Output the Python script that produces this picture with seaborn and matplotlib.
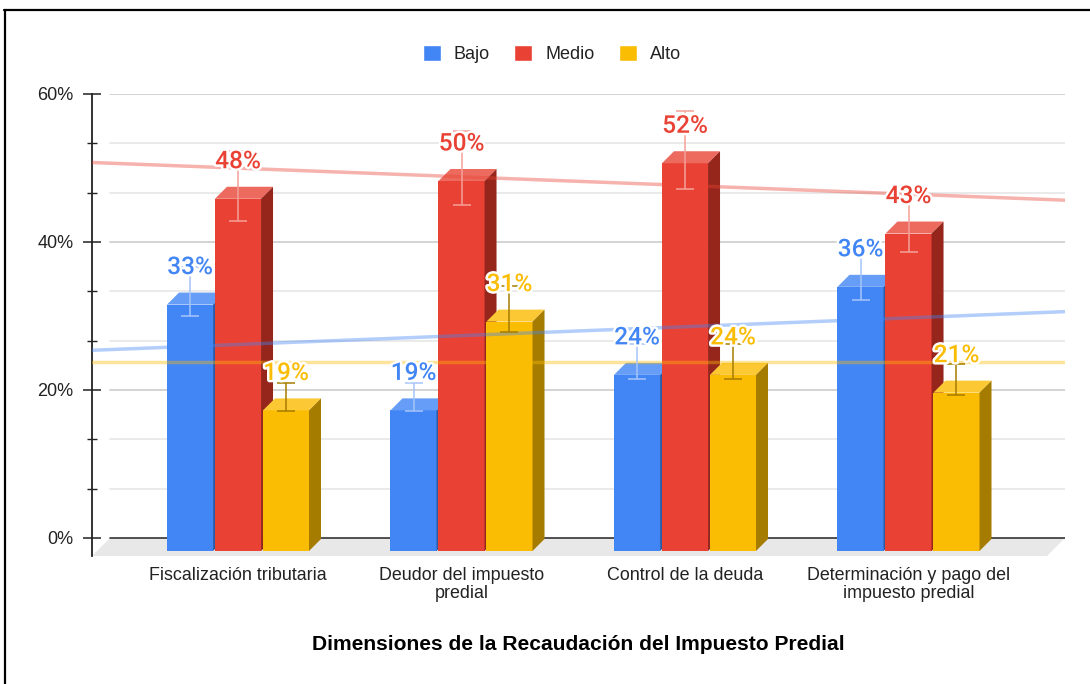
import numpy as np
import pandas as pd
import matplotlib
matplotlib.use("Agg")
import matplotlib.pyplot as plt
from matplotlib.lines import Line2D
from matplotlib.patches import Patch, Polygon
from matplotlib.ticker import MultipleLocator, PercentFormatter
import matplotlib.patheffects as pe
import seaborn as sns

categorias = ["Fiscalización tributaria", "Deudor del impuesto\npredial",
              "Control de la deuda", "Determinación y pago del\nimpuesto predial"]
niveles = ["Bajo", "Medio", "Alto"]
bajo = [33.3, 19.0, 23.8, 35.7]
medio = [47.6, 50.0, 52.4, 42.9]
alto = [19.0, 31.0, 23.8, 21.4]
serie = {"Bajo": bajo, "Medio": medio, "Alto": alto}

colores = {"Bajo": "#4285f4", "Medio": "#e94235", "Alto": "#fbbc04"}
techo = {"Bajo": "#669df6", "Medio": "#ec6a5e", "Alto": "#fcc934"}
lado = {"Bajo": "#2a5ba8", "Medio": "#96261c", "Alto": "#a67c00"}
error = {"Bajo": "#a6c5fa", "Medio": "#f4a29a", "Alto": "#a67c00"}

W, H = 1090, 684
L, R, T, B = 92, 1065, 94, 556   # axes box in pixels
px_y = 444 / 60                  # pixels per 1%
px_x = 223.5                     # pixels per category
dx, dy = 12 / px_x, 12 / px_y    # 3d offset of the bars

df = pd.DataFrame({
    "dim": categorias * 3,
    "nivel": np.repeat(niveles, 4),
    "valor": bajo + medio + alto,
})

sns.set_theme(style="white")
plt.rcParams["font.family"] = ["Liberation Sans", "DejaVu Sans"]

fig = plt.figure(figsize=(W / 100, H / 100), dpi=100)
ax = fig.add_axes([L / W, 1 - B / H, (R - L) / W, (B - T) / H])

sns.barplot(data=df, x="dim", y="valor", hue="nivel", order=categorias, hue_order=niveles,
            palette=colores, saturation=1, width=0.644, gap=0.04, bottom=-13 / px_y,
            errorbar=None, legend=False, linewidth=0, ax=ax)

ax.set_xlim((L - 238) / px_x, (R - 238) / px_x)
ax.set_ylim(-18 / px_y, 60)

# caras superior y lateral de cada barra
barras = [p for p in ax.patches if p.get_height() > 0]
for i, nivel in enumerate(niveles):
    for j in range(4):
        p = barras[i * 4 + j]
        x0, w, y0, h = p.get_x(), p.get_width(), p.get_y(), p.get_height()
        y1 = y0 + h
        v = serie[nivel][j]
        p.set_zorder(2 + i)
        ax.add_patch(Polygon([(x0, y1), (x0 + w, y1), (x0 + w + dx, y1 + dy), (x0 + dx, y1 + dy)],
                             facecolor=techo[nivel], linewidth=0, zorder=2 + i))
        ax.add_patch(Polygon([(x0 + w, y0), (x0 + w + dx, y0 + dy), (x0 + w + dx, y1 + dy), (x0 + w, y1)],
                             facecolor=lado[nivel], linewidth=0, zorder=2 + i))
        # barras de error del 10%
        ax.errorbar(x0 + w / 2, v, yerr=v * 0.1, ecolor=error[nivel], elinewidth=1.1, capsize=6.5,
                    capthick=1.1, fmt="none", zorder=6)
        ax.annotate("{:.0f}%".format(v), (x0 + w / 2, v),
                    xytext=(0, 24), textcoords="offset pixels", ha="center", va="center",
                    fontsize=17.6, fontweight="medium", family="Roboto", color=colores[nivel],
                    zorder=8, path_effects=[pe.withStroke(linewidth=3.5, foreground="white")])

# piso, rejilla y linea base
trans = ax.get_yaxis_transform()
inicio = 18 / (R - L)
ax.add_patch(Polygon([(0, -18 / px_y), (inicio, 0), (1, 0), (1 - inicio, -18 / px_y)],
                     transform=trans, facecolor="#e8e8e8", linewidth=0, zorder=0.5))
for v in np.arange(1, 10) * 20 / 3:
    mayor = abs(v / 20 - round(v / 20)) < 1e-6
    ax.plot([inicio, 1], [v, v], transform=trans, color="#cccccc" if mayor else "#e6e6e6",
            linewidth=1.2, zorder=0.6)
ax.plot([inicio, 1], [0, 0], transform=trans, color="#333333", linewidth=1.2, zorder=0.7)

# lineas de tendencia
xs = np.arange(4)
for nivel in niveles:
    sns.regplot(x=xs, y=serie[nivel], scatter=False, ci=None, truncate=False, ax=ax,
                color=colores[nivel], line_kws={"alpha": 0.4, "linewidth": 2.5, "zorder": 5})
ax.set_xlim((L - 238) / px_x, (R - 238) / px_x)
ax.set_ylim(-18 / px_y, 60)

ax.yaxis.set_major_locator(MultipleLocator(20))
ax.yaxis.set_minor_locator(MultipleLocator(20 / 3))
ax.yaxis.set_major_formatter(PercentFormatter(decimals=0))
ax.tick_params(axis="y", which="major", direction="inout", length=13, width=1.1, color="#222222",
               left=True, labelsize=13, pad=7, labelcolor="#222222")
ax.tick_params(axis="y", which="minor", direction="inout", length=6.5, width=1, color="#222222", left=True)
ax.tick_params(axis="x", length=0, labelsize=12.9, pad=8, labelcolor="#222222")
for t in ax.get_xticklabels():
    t.set_linespacing(1.05)
ax.set_ylabel("")
ax.set_xlabel("Dimensiones de la Recaudación del Impuesto Predial", fontsize=15.1, fontweight="bold",
              color="black", labelpad=24)

sns.despine(ax=ax, left=False, bottom=True)
ax.spines["left"].set_color("#222222")
ax.spines["left"].set_linewidth(1.3)

handles = [Patch(facecolor=colores[n], label=n) for n in niveles]
fig.legend(handles=handles, ncol=3, loc="center", bbox_to_anchor=(552 / W, 1 - 54 / H), frameon=False,
           fontsize=13, handlelength=1.0, handleheight=1.0, handletextpad=0.72, columnspacing=1.35,
           labelcolor="#222222")

# marco de la imagen
fig.add_artist(Line2D([4.5 / W, 4.5 / W], [0, 1 - 10 / H], color="black", linewidth=1.6))
fig.add_artist(Line2D([4 / W, 1], [1 - 10 / H, 1 - 10 / H], color="black", linewidth=1.6))

fig.savefig("out.png", dpi=100)
